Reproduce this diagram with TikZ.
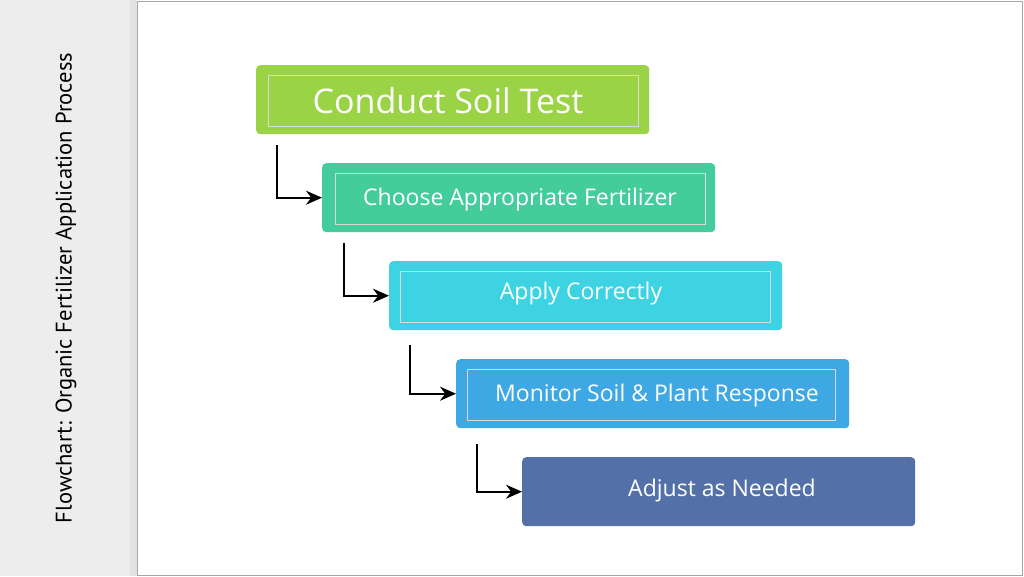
\documentclass[tikz,border=0pt]{standalone}
\usepackage{fontspec}
\setmainfont{Open Sans}
\newfontfamily\titlefont{PT Sans}
\usetikzlibrary{arrows.meta}
\definecolor{c1}{HTML}{9BD346}
\definecolor{c2}{HTML}{45CC9C}
\definecolor{c3}{HTML}{3ED3E2}
\definecolor{c4}{HTML}{3EA8E4}
\definecolor{c5}{HTML}{5470A8}
\begin{document}
\begin{tikzpicture}[x=1pt,y=-1pt,
  stepbox/.style={rounded corners=4pt,minimum width=393pt,minimum height=69pt,inner sep=0pt,text=white,anchor=north west},
  innerbox/.style={draw=white!85!black,line width=0.8pt,minimum width=370pt,minimum height=51pt,inner sep=0pt},
  conn/.style={line width=2pt,-{Stealth[length=16pt,width=14pt]}}]
\useasboundingbox (0,0) rectangle (1024,576);
\fill[gray!14] (0,0) rectangle (130,576);
\fill[gray!22] (130,0) rectangle (137,576);
\draw[gray!70,line width=0.8pt,fill=white] (137,1) rectangle (1022,575);
\node[rotate=90] (title) at (66,288) {\resizebox{470pt}{!}{\titlefont Flowchart: Organic Fertilizer Application Process}};
\node[stepbox,fill=c1] (b1) at (256,65) {};
\node[innerbox] (i1) at (453.5,100.5) {};
\node[text=white,font=\fontsize{34}{40}\selectfont] (t1) at (448,101) {Conduct Soil Test};
\node[stepbox,fill=c2] (b2) at (322,163) {};
\node[innerbox] (i2) at (520,198.5) {};
\node[text=white,font=\fontsize{23}{28}\selectfont] (t2) at (520,200) {Choose Appropriate Fertilizer};
\node[stepbox,fill=c3] (b3) at (389,261) {};
\node[innerbox] (i3) at (585,296.5) {};
\node[text=white,font=\fontsize{23}{28}\selectfont] (t3) at (581,294) {Apply Correctly};
\node[stepbox,fill=c4] (b4) at (456,359) {};
\node[innerbox,minimum width=368pt] (i4) at (651,394.5) {};
\node[text=white,font=\fontsize{23}{28}\selectfont] (t4) at (657,396) {Monitor Soil \& Plant Response};
\node[stepbox,fill=c5] (b5) at (522,457) {};
\node[text=white,font=\fontsize{23}{28}\selectfont] (t5) at (722,491) {Adjust as Needed};
\coordinate (s1) at (277,145);
\coordinate (s2) at (344,243);
\coordinate (s3) at (410,345);
\coordinate (s4) at (477,444);
\draw[conn] (s1) |- (b2.west);
\draw[conn] (s2) |- (b3.west);
\draw[conn] (s3) |- (b4.west);
\draw[conn] (s4) |- (b5.west);
\end{tikzpicture}
\end{document}
